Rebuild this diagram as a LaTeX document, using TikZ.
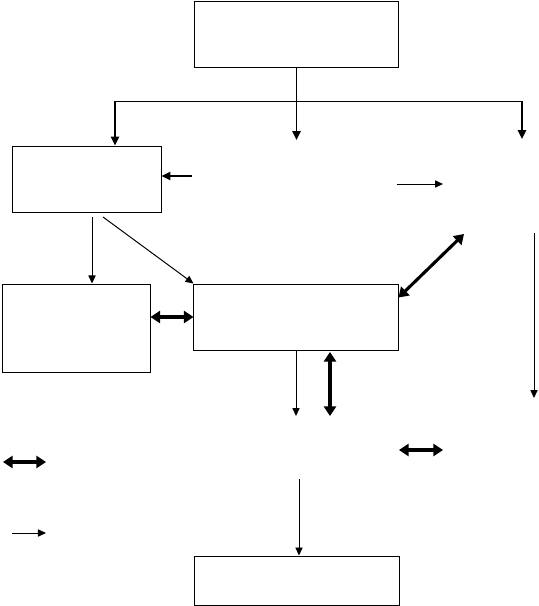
\documentclass[tikz,border=0pt]{standalone}
\usetikzlibrary{arrows.meta, positioning, calc}
\tikzset{
  every picture/.style={line width=0.7pt},
  box/.style={draw, inner sep=0pt, minimum width=#1},
  box/.default=5.1cm,
  arrow/.style={-{Triangle[length=2mm, width=1.8mm]}, line width=0.7pt},
  droparrow/.style={-{Triangle[length=2.2mm, width=2mm]}, line width=1.3pt},
  twoway/.style={{Triangle[length=2.4mm, width=3mm]}-{Triangle[length=2.4mm, width=3mm]}, line width=2.2pt},
}
\begin{document}
\begin{tikzpicture}[x=0.025cm, y=-0.025cm]
  \useasboundingbox (0,0) rectangle (539,606);
  % boxes
  \node[box=5.075cm, minimum height=1.65cm] (top) at (296.5,34) {};
  \node[box=3.7cm, minimum height=1.65cm] (left) at (87,179) {};
  \node[box=3.675cm, minimum height=2.2cm] (farleft) at (76.5,328) {};
  \node[box=5.1cm, minimum height=1.65cm] (mid) at (296,317) {};
  \node[box=5.1cm, minimum height=1.225cm] (bottom) at (297,580.5) {};
  % free ends
  \coordinate (fl) at (115,101);
  \coordinate (fr) at (522,101);
  \coordinate (t2) at (296.5,140);
  \coordinate (t3) at (522,139);
  \coordinate (in1) at (192,176);
  \coordinate (d1) at (92,217);
  \coordinate (d2) at (103,217);
  \coordinate (a1) at (397,184);
  \coordinate (a2) at (443,184);
  \coordinate (e1) at (464,234);
  \coordinate (v1) at (534,233);
  \coordinate (v2) at (534,398);
  \coordinate (m1) at (296,416);
  \coordinate (m2) at (330,352);
  \coordinate (m3) at (330,416);
  \coordinate (h1) at (399,450);
  \coordinate (h2) at (443,450);
  \coordinate (k1) at (3,462);
  \coordinate (k2) at (46,462);
  \coordinate (k3) at (12,533);
  \coordinate (k4) at (46,533);
  \coordinate (b0) at (299,479);
  % tree under the top box
  \draw (fl) -- (fr);
  \draw[droparrow] (top.south) -- (t2);
  \draw[droparrow] (fl) -- (fl |- left.north);
  \draw[droparrow] (fr) -- (t3);
  % connectors
  \draw[droparrow] (in1) -- (in1 -| left.east);
  \draw[arrow] (d1) -- (d1 |- farleft.north);
  \draw[arrow] (d2) -- (mid.north west);
  \draw[twoway] (farleft.east |- mid.west) -- (mid.west);
  \draw[twoway] ($(mid.north east)!0.21!(mid.south east)$) -- (e1);
  \draw[arrow] (mid.south) -- (m1);
  \draw[twoway] (m2) -- (m3);
  \draw[arrow] (a1) -- (a2);
  \draw[arrow] (v1) -- (v2);
  \draw[twoway] (h1) -- (h2);
  \draw[twoway] (k1) -- (k2);
  \draw[arrow] (k3) -- (k4);
  \draw[arrow] (b0) -- (b0 |- bottom.north);
\end{tikzpicture}
\end{document}
